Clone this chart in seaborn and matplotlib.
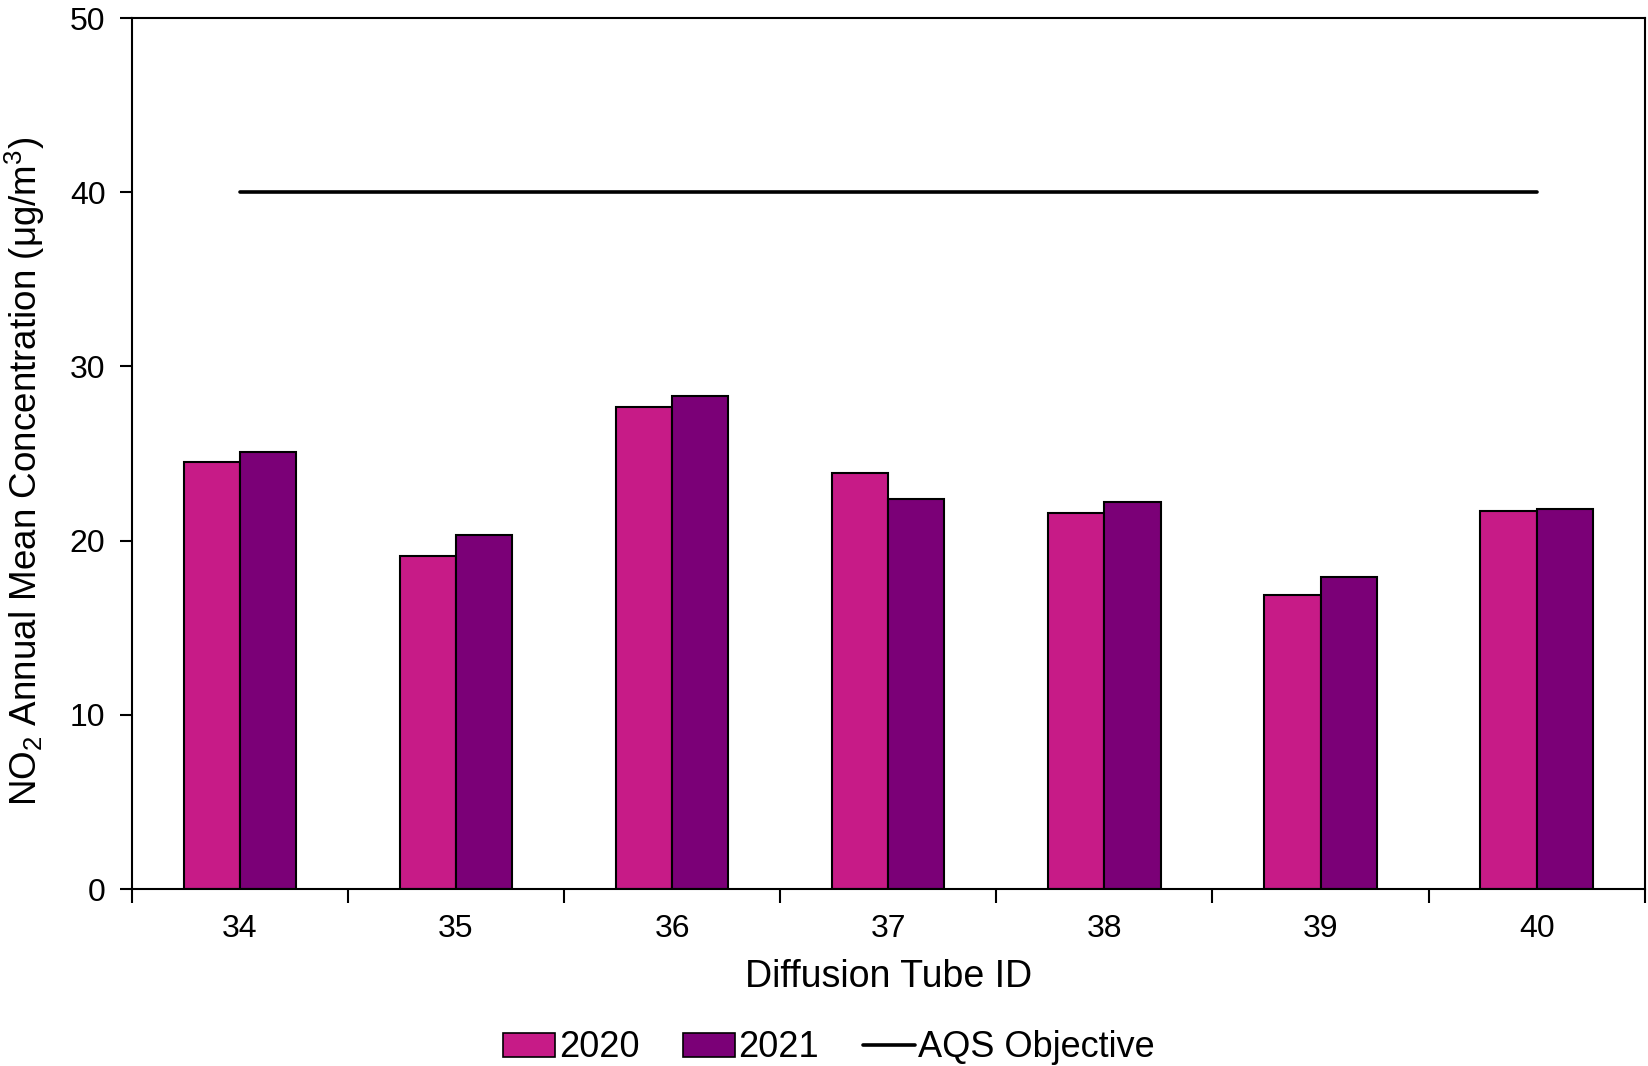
import matplotlib
matplotlib.use("Agg")
import matplotlib.pyplot as plt
import seaborn as sns
import pandas as pd
from matplotlib.patches import Patch
from matplotlib.lines import Line2D

tube_ids = ["34", "35", "36", "37", "38", "39", "40"]
values_2020 = [24.5, 19.1, 27.7, 23.9, 21.6, 16.9, 21.7]
values_2021 = [25.1, 20.3, 28.3, 22.4, 22.2, 17.9, 21.8]
aqs_objective = [40] * len(tube_ids)
years = ["2020", "2021"]
colors = ["#C71B87", "#7B0077"]

df = pd.DataFrame({
    "Tube": tube_ids * 2,
    "Year": ["2020"] * len(tube_ids) + ["2021"] * len(tube_ids),
    "Value": values_2020 + values_2021,
})

sns.set_style("white")
plt.rcParams["font.family"] = ["Liberation Sans", "DejaVu Sans"]
plt.rcParams["mathtext.fontset"] = "custom"
plt.rcParams["mathtext.rm"] = "Liberation Sans"
plt.rcParams["mathtext.it"] = "Liberation Sans:italic"
plt.rcParams["text.color"] = "black"
plt.rcParams["axes.labelcolor"] = "black"
plt.rcParams["xtick.color"] = "black"
plt.rcParams["ytick.color"] = "black"

fig = plt.figure(figsize=(16.48, 10.66), dpi=100)
ax = fig.add_axes([0.080, 0.166, 0.918, 0.817])

sns.barplot(data=df, x="Tube", y="Value", hue="Year", order=tube_ids,
            hue_order=years, palette=colors, saturation=1, width=0.52, gap=0,
            edgecolor="black", linewidth=1.5, ax=ax, legend=False)

ax.plot(range(len(tube_ids)), aqs_objective, color="black", lw=2.6)

ax.set_xlim(-0.5, len(tube_ids) - 0.5)
ax.set_ylim(0, 50)
ax.set_yticks([0, 10, 20, 30, 40, 50])
ax.set_xticks(range(len(tube_ids)))
ax.set_xticklabels(tube_ids)
ax.set_xticks([i - 0.5 for i in range(len(tube_ids) + 1)], minor=True)
ax.tick_params(axis="x", which="major", length=0, labelsize=23, pad=18)
ax.tick_params(axis="x", which="minor", length=10, width=1.5, direction="out", bottom=True)
ax.tick_params(axis="y", which="major", length=9, width=1.5, direction="out", left=True, labelsize=23, pad=10)

for s in ax.spines.values():
    s.set_visible(True)
    s.set_color("black")
    s.set_linewidth(1.5)

ax.set_xlabel("Diffusion Tube ID", fontsize=27, labelpad=11)
ax.set_ylabel(r"NO$_2$ Annual Mean Concentration (μg/m$^3$)", fontsize=26.5)
ax.yaxis.set_label_coords(-0.056, 0.48)

handles = [
    Patch(facecolor=colors[0], edgecolor="black", linewidth=1.2),
    Patch(facecolor=colors[1], edgecolor="black", linewidth=1.2),
    Line2D([0], [0], color="black", lw=2.6),
]
fig.legend(handles, ["2020", "2021", "AQS Objective"], loc="center",
           bbox_to_anchor=(0.503, 0.017), ncol=3, frameon=False, fontsize=26,
           handlelength=1.45, handleheight=0.65, handletextpad=0.1, columnspacing=1.2)

fig.savefig("out.png", dpi=100)
